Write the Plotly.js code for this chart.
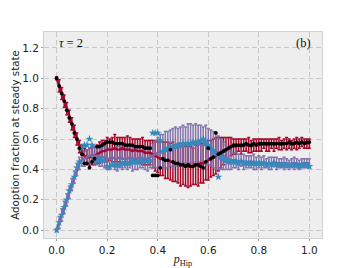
<!DOCTYPE html>
<html><head><meta charset="utf-8">
<script src="https://cdn.plot.ly/plotly-3.0.1.min.js"></script>
<style>html,body{margin:0;padding:0;background:#fff}#c{width:357px;height:268px}</style>
</head><body><div id="c"></div>
<script>
const pHip = [0,0.01,0.02,0.03,0.04,0.05,0.06,0.07,0.08,0.09,
0.10,0.11,0.12,0.13,0.14,0.15,0.16,0.17,0.18,0.19,
0.20,0.21,0.22,0.23,0.24,0.25,0.26,0.27,0.28,0.29,
0.30,0.31,0.32,0.33,0.34,0.35,0.36,0.37,0.38,0.39,
0.40,0.41,0.42,0.43,0.44,0.45,0.46,0.47,0.48,0.49,
0.50,0.51,0.52,0.53,0.54,0.55,0.56,0.57,0.58,0.59,
0.60,0.61,0.62,0.63,0.64,0.65,0.66,0.67,0.68,0.69,
0.70,0.71,0.72,0.73,0.74,0.75,0.76,0.77,0.78,0.79,
0.80,0.81,0.82,0.83,0.84,0.85,0.86,0.87,0.88,0.89,
0.90,0.91,0.92,0.93,0.94,0.95,0.96,0.97,0.98,0.99,1.00];

const redMean = [1.00,0.95,0.90,0.85,0.80,0.75,0.70,0.65,0.60,0.55,
0.51,0.49,0.48,0.48,0.49,0.49,0.50,0.51,0.52,0.52,
0.53,0.53,0.53,0.54,0.53,0.53,0.54,0.53,0.53,0.53,
0.52,0.53,0.52,0.52,0.52,0.51,0.51,0.51,0.50,0.49,
0.48,0.47,0.47,0.46,0.46,0.45,0.45,0.44,0.44,0.43,
0.43,0.42,0.42,0.42,0.42,0.43,0.43,0.44,0.44,0.45,
0.46,0.47,0.48,0.49,0.50,0.51,0.52,0.53,0.54,0.55,
0.55,0.55,0.56,0.55,0.56,0.56,0.56,0.55,0.56,0.56,
0.56,0.56,0.57,0.56,0.56,0.57,0.56,0.57,0.57,0.56,
0.57,0.57,0.57,0.56,0.57,0.57,0.57,0.58,0.57,0.57,0.57];

const redErr = [0.01,0.04,0.04,0.04,0.04,0.04,0.04,0.04,0.04,0.04,
0.05,0.05,0.05,0.06,0.06,0.06,0.06,0.07,0.07,0.07,
0.08,0.07,0.08,0.09,0.08,0.08,0.07,0.08,0.09,0.08,
0.08,0.07,0.08,0.08,0.09,0.08,0.08,0.08,0.09,0.10,
0.10,0.11,0.11,0.12,0.12,0.12,0.13,0.12,0.13,0.14,
0.13,0.13,0.14,0.13,0.12,0.13,0.14,0.13,0.13,0.12,
0.13,0.12,0.12,0.12,0.11,0.10,0.09,0.08,0.07,0.06,
0.05,0.05,0.04,0.05,0.04,0.04,0.05,0.04,0.04,0.04,
0.04,0.04,0.03,0.04,0.04,0.03,0.04,0.03,0.04,0.03,
0.03,0.04,0.03,0.03,0.03,0.04,0.03,0.03,0.03,0.03,0.03];

const purpleMean = [0.00,0.05,0.10,0.15,0.20,0.25,0.30,0.35,0.40,0.44,
0.46,0.47,0.48,0.49,0.49,0.49,0.49,0.48,0.48,0.48,
0.47,0.47,0.48,0.47,0.47,0.48,0.47,0.47,0.47,0.48,
0.47,0.47,0.47,0.48,0.47,0.47,0.47,0.48,0.49,0.50,
0.51,0.52,0.52,0.53,0.53,0.54,0.54,0.55,0.55,0.55,
0.56,0.56,0.57,0.57,0.57,0.57,0.57,0.56,0.56,0.56,
0.55,0.54,0.53,0.52,0.51,0.50,0.49,0.48,0.47,0.46,
0.46,0.46,0.45,0.46,0.45,0.45,0.45,0.45,0.45,0.44,
0.45,0.44,0.45,0.44,0.44,0.44,0.45,0.44,0.44,0.44,
0.44,0.44,0.43,0.44,0.44,0.44,0.43,0.44,0.44,0.44,0.44];

const purpleErr = [0.01,0.04,0.04,0.04,0.04,0.04,0.04,0.04,0.04,0.04,
0.04,0.05,0.05,0.05,0.05,0.06,0.06,0.06,0.06,0.07,
0.07,0.07,0.06,0.07,0.08,0.07,0.07,0.06,0.07,0.07,
0.08,0.07,0.07,0.07,0.06,0.07,0.08,0.07,0.08,0.09,
0.10,0.11,0.11,0.12,0.12,0.12,0.13,0.13,0.12,0.13,
0.13,0.12,0.13,0.13,0.12,0.13,0.12,0.13,0.12,0.13,
0.12,0.12,0.12,0.12,0.11,0.10,0.09,0.08,0.07,0.06,
0.05,0.05,0.05,0.04,0.05,0.04,0.04,0.04,0.05,0.04,
0.04,0.04,0.04,0.03,0.04,0.04,0.03,0.04,0.03,0.03,
0.04,0.03,0.03,0.03,0.04,0.03,0.03,0.03,0.03,0.03,0.03];

const blueStars = [0.00,0.05,0.10,0.15,0.20,0.26,0.30,0.35,0.41,0.45,
0.54,0.56,0.56,0.60,0.56,0.46,0.46,0.47,0.46,0.46,
0.42,0.42,0.43,0.43,0.43,0.43,0.44,0.44,0.44,0.44,
0.45,0.45,0.45,0.45,0.46,0.46,0.46,0.46,0.64,0.64,
0.64,0.59,0.52,0.53,0.54,0.54,0.55,0.55,0.56,0.56,
0.57,0.57,0.57,0.57,0.58,0.58,0.58,0.59,0.60,0.58,
0.56,0.54,0.52,0.50,0.35,0.48,0.47,0.46,0.45,0.45,
0.45,0.45,0.44,0.45,0.44,0.44,0.44,0.44,0.44,0.44,
0.44,0.44,0.44,0.43,0.44,0.43,0.44,0.43,0.43,0.43,
0.43,0.43,0.43,0.43,0.43,0.43,0.42,0.43,0.43,0.43,0.42];

const blackDots = [1.00,0.95,0.90,0.85,0.79,0.74,0.70,0.64,0.60,0.54,
0.50,0.44,0.44,0.41,0.45,0.47,0.55,0.55,0.56,0.57,
0.58,0.58,0.58,0.57,0.57,0.57,0.57,0.56,0.56,0.56,
0.56,0.55,0.55,0.55,0.55,0.54,0.54,0.54,0.36,0.36,
0.36,0.41,0.47,0.46,0.46,0.53,0.45,0.44,0.44,0.43,
0.43,0.42,0.43,0.42,0.42,0.43,0.43,0.42,0.41,0.45,
0.54,0.47,0.48,0.64,0.50,0.51,0.52,0.53,0.54,0.55,
0.56,0.56,0.56,0.56,0.56,0.57,0.56,0.56,0.57,0.56,
0.57,0.57,0.57,0.57,0.57,0.57,0.57,0.57,0.57,0.57,
0.57,0.57,0.58,0.57,0.57,0.58,0.57,0.58,0.57,0.58,0.58];

const xTicks = [0, 0.2, 0.4, 0.6, 0.8, 1.0];
const xTickText = ['0.0','0.2','0.4','0.6','0.8','1.0'];
const yTicks = [0, 0.2, 0.4, 0.6, 0.8, 1.0, 1.2];
const yTickText = ['0.0','0.2','0.4','0.6','0.8','1.0','1.2'];

const RED = '#A60628', PURPLE = '#7A68A6', BLUE = '#348ABD';

const traces = [
  {x: pHip, y: redMean, type: 'scatter', mode: 'lines', line: {width: 0, color: RED},
   error_y: {type: 'data', array: redErr, visible: true, color: RED, thickness: 1.5, width: 1.5}, hoverinfo: 'skip'},
  {x: pHip, y: purpleMean, type: 'scatter', mode: 'lines', line: {width: 0, color: PURPLE},
   error_y: {type: 'data', array: purpleErr, visible: true, color: 'rgba(122,104,166,0.9)', thickness: 1.5, width: 1.5}, hoverinfo: 'skip'},
  {x: pHip, y: redMean, type: 'scatter', mode: 'lines', line: {width: 2.4, color: RED}},
  {x: pHip, y: purpleMean, type: 'scatter', mode: 'lines', line: {width: 2.4, color: PURPLE}},
  {x: pHip, y: blueStars, type: 'scatter', mode: 'markers',
   marker: {symbol: 'star', size: 6, color: BLUE, line: {width: 0}}},
  {x: pHip, y: blackDots, type: 'scatter', mode: 'markers',
   marker: {symbol: 'circle', size: 3.8, color: '#000', line: {width: 0}}}
];

const axisCommon = {
  showgrid: true, gridcolor: '#c8c8c8', griddash: '5px,3px', gridwidth: 1,
  zeroline: false, showline: true, linecolor: '#d2d2d2', linewidth: 1, mirror: true,
  ticks: 'outside', ticklen: 2, tickcolor: '#999', tickwidth: 1,
  tickfont: {family: 'DejaVu Sans', size: 10.5, color: '#222'}
};

const layout = {
  width: 357, height: 268,
  margin: {l: 44, r: 35, t: 32, b: 30},
  paper_bgcolor: '#ffffff', plot_bgcolor: '#eeeeee',
  showlegend: false,
  xaxis: Object.assign({}, axisCommon, {
    range: [-0.05, 1.05], tickvals: xTicks, ticktext: xTickText,
    title: {text: '<i>p</i><sub>Hip</sub>', font: {family: 'Liberation Serif', size: 12, color: '#222'}, standoff: 1}
  }),
  yaxis: Object.assign({}, axisCommon, {
    range: [-0.052, 1.305], tickvals: yTicks, ticktext: yTickText,
    title: {text: 'Adoption fraction at steady state', font: {family: 'DejaVu Sans', size: 10.3, color: '#222'}, standoff: 0}
  }),
  annotations: [
    {xref: 'paper', yref: 'paper', x: 0.045, y: 0.948, xanchor: 'left', yanchor: 'middle', showarrow: false,
     text: '<i>τ</i> = 2', font: {family: 'Liberation Serif', size: 12.5, color: '#111'}},
    {xref: 'paper', yref: 'paper', x: 0.968, y: 0.948, xanchor: 'right', yanchor: 'middle', showarrow: false,
     text: '(b)', font: {family: 'Liberation Serif', size: 12.5, color: '#111'}}
  ]
};

Plotly.newPlot('c', traces, layout, {displayModeBar: false, staticPlot: true});
</script>
</body></html>
